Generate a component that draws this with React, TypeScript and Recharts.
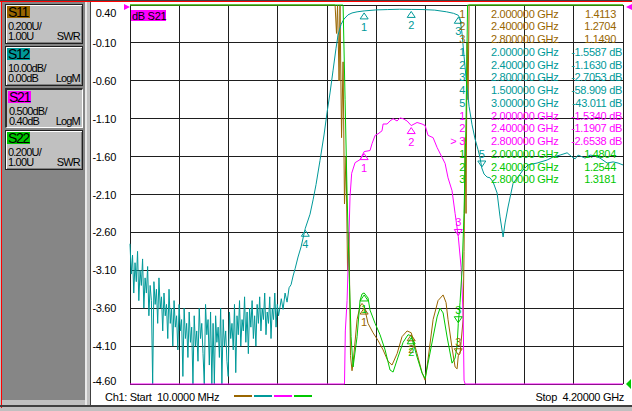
import React from "react";
import {
  ComposedChart,
  Line,
  XAxis,
  YAxis,
  CartesianGrid,
  ReferenceDot,
} from "recharts";

const FONT = "'Liberation Sans', Arial, sans-serif";

// sweep
const START_GHZ = 0.01;
const STOP_GHZ = 4.2;
const X_TICKS = [0, 1, 2, 3, 4, 5, 6, 7, 8, 9, 10].map(
  (k) => START_GHZ + (k * (STOP_GHZ - START_GHZ)) / 10
);
const S21_TICKS = [0.4, -0.1, -0.6, -1.1, -1.6, -2.1, -2.6, -3.1, -3.6, -4.1, -4.6];

// channel panel
const TRACE_NAMES = ["S11", "S12", "S21", "S22"];
const TRACE_COLORS = ["#996600", "#009999", "#ff00ff", "#00c800"];
const TRACE_SCALES = ["0.200U/", "10.00dB/", "0.500dB/", "0.200U/"];
const TRACE_REFS = ["1.00U", "0.00dB", "0.40dB", "1.00U"];
const TRACE_FORMATS = ["SWR", "LogM", "LogM", "SWR"];

// S12 noise floor, one value per sweep step from the start
const S12_NOISE_STEP = 0.0107;
const S12_NOISE_DB = [
  -63, -71, -66, -76, -68, -73, -65, -78, -70, -74,
  -67, -80, -72, -76, -69, -82, -74, -78, -100, -73,
  -79, -75, -84, -72, -80, -77, -86, -76, -82, -79,
  -88, -75, -84, -80, -90, -78, -85, -82, -91, -79,
  -86, -83, -98, -80, -88, -84, -93, -81, -89, -85,
  -100, -82, -90, -86, -94, -80, -88, -84, -92, -100,
  -79, -87, -83, -95, -81, -100, -84, -100, -82, -89,
  -85, -93, -80, -100, -83, -90, -86, -94, -98, -81,
  -88, -84, -91, -79, -97, -82, -87, -78, -90, -83,
  -86, -77, -89, -81, -92, -80, -85, -78, -88, -82,
  -90, -79, -84, -77, -86, -80, -83, -76, -87, -81,
  -84, -77, -88, -80, -83, -76, -85, -79, -82, -80,
];

// S12 skirt, passband and upper stopband [GHz, dB]
const S12_TRACE = [
  [1.296, -77.5], [1.311, -80.3], [1.328, -76.0], [1.345, -78.4], [1.362, -74.6],
  [1.379, -73.8], [1.396, -71.5], [1.413, -69.6], [1.438, -66.5], [1.464, -63.8],
  [1.5, -58.909], [1.54, -55.2], [1.566, -51.4], [1.591, -47.4], [1.625, -41.0],
  [1.659, -34.3], [1.685, -28.3], [1.71, -23.2], [1.736, -17.2], [1.761, -11.4],
  [1.778, -8.0], [1.804, -5.1], [1.829, -3.7], [1.863, -2.6], [1.897, -2.1],
  [1.94, -1.8], [2.0, -1.5587], [2.1, -1.3], [2.2, -1.2], [2.3, -1.12],
  [2.4, -1.163], [2.5, -1.2], [2.6, -1.35], [2.7, -1.8], [2.76, -2.2],
  [2.8, -2.7053], [2.815, -3.6], [2.832, -7.5], [2.849, -13.5], [2.87, -20.5],
  [2.892, -26.8], [2.917, -31.6], [2.943, -35.4], [2.968, -38.2], [2.985, -40.3], [3.0, -43.011],
  [3.019, -44.6], [3.045, -45.4], [3.07, -45.6], [3.096, -46.7], [3.13, -49.6],
  [3.155, -55.9], [3.181, -61.2], [3.198, -57.5], [3.223, -53.3], [3.266, -47.0],
  [3.308, -45.4], [3.351, -43.5], [3.393, -42.2], [3.47, -41.7], [3.555, -40.9],
  [3.606, -40.1], [3.665, -39.6], [3.725, -39.0], [3.767, -40.1], [3.793, -40.6],
  [3.818, -39.6], [3.878, -40.4], [3.92, -39.6], [3.963, -39.8], [4.005, -40.4],
  [4.065, -41.7], [4.116, -41.4], [4.158, -41.7], [4.2, -42.2],
];

// S21 [GHz, dB], clamped at the bottom of the screen
const S21_TRACE = [
  [0.01, -4.6], [1.833, -4.6], [1.84, -3.9], [1.855, -3.5], [1.867, -2.87],
  [1.88, -2.13], [1.894, -1.82], [1.923, -1.68], [1.965, -1.64], [2.0, -1.534],
  [2.05, -1.52], [2.067, -1.43], [2.093, -1.32], [2.118, -1.3], [2.152, -1.26],
  [2.161, -1.17], [2.195, -1.17], [2.22, -1.13], [2.246, -1.1], [2.28, -1.13],
  [2.305, -1.09], [2.331, -1.1], [2.365, -1.13], [2.4, -1.1907], [2.45, -1.15],
  [2.492, -1.17], [2.518, -1.19], [2.543, -1.32], [2.586, -1.35], [2.62, -1.48],
  [2.662, -1.61], [2.688, -1.69], [2.713, -1.88], [2.747, -2.05], [2.773, -2.35],
  [2.8, -2.6538], [2.824, -3.06], [2.841, -3.66], [2.849, -4.55], [2.858, -4.6],
  [4.2, -4.6],
];

// S11 SWR [GHz, U], clamped at the top of the screen
const S11_TRACE = [
  [0.01, 3.0], [1.753, 3.0], [1.765, 2.85], [1.774, 3.0], [1.787, 2.6],
  [1.795, 3.0], [1.808, 2.3], [1.821, 2.7], [1.833, 1.95], [1.846, 2.2],
  [1.859, 1.6], [1.871, 1.8], [1.884, 1.15], [1.897, 1.07], [1.906, 1.11],
  [1.94, 1.34], [1.965, 1.41], [1.982, 1.425], [2.0, 1.4113], [2.033, 1.32],
  [2.076, 1.27], [2.118, 1.23], [2.161, 1.18], [2.203, 1.12], [2.237, 1.1],
  [2.28, 1.16], [2.322, 1.25], [2.365, 1.28], [2.4, 1.2704], [2.45, 1.16],
  [2.492, 1.06], [2.518, 1.02], [2.543, 1.13], [2.586, 1.34], [2.628, 1.44],
  [2.671, 1.47], [2.696, 1.43], [2.713, 1.34], [2.747, 1.19], [2.773, 1.09],
  [2.79, 1.08], [2.8, 1.149], [2.815, 1.16], [2.841, 1.34], [2.849, 1.7],
  [2.858, 2.3], [2.866, 1.9], [2.875, 2.8], [2.883, 2.5], [2.892, 3.0],
  [4.2, 3.0],
];

// S22 SWR [GHz, U]
const S22_TRACE = [
  [0.01, 3.0], [1.821, 3.0], [1.838, 2.5], [1.855, 2.0], [1.872, 1.6],
  [1.889, 1.25], [1.906, 1.09], [1.94, 1.25], [1.965, 1.44], [1.982, 1.475],
  [2.0, 1.4804], [2.033, 1.454], [2.05, 1.39], [2.093, 1.32], [2.135, 1.26],
  [2.178, 1.18], [2.22, 1.074], [2.246, 1.063], [2.288, 1.142], [2.331, 1.22],
  [2.373, 1.26], [2.4, 1.2544], [2.45, 1.142], [2.492, 1.058], [2.518, 1.03],
  [2.543, 1.11], [2.586, 1.248], [2.62, 1.354], [2.645, 1.4], [2.671, 1.375],
  [2.705, 1.248], [2.747, 1.11], [2.773, 1.137], [2.79, 1.2], [2.8, 1.3181],
  [2.815, 1.43], [2.832, 1.6], [2.849, 1.9], [2.866, 2.4], [2.879, 3.0],
  [4.2, 3.0],
];

// markers [GHz, value]
const S11_MARKERS = [[2.0, 1.4113], [2.4, 1.2704], [2.8, 1.149]];
const S12_MARKERS = [[2.0, -1.5587], [2.4, -1.163], [2.8, -2.7053], [1.5, -58.909], [3.0, -43.011]];
const S21_MARKERS = [[2.0, -1.534], [2.4, -1.1907], [2.8, -2.6538]];
const S22_MARKERS = [[2.0, 1.4804], [2.4, 1.2544], [2.8, 1.3181]];

const toPoints = (pairs: number[][]) => pairs.map(([f, v]) => ({ f, v }));

const s12Points = [
  ...S12_NOISE_DB.map((v, i) => ({ f: START_GHZ + i * S12_NOISE_STEP, v })),
  ...toPoints(S12_TRACE),
];

const markerSets = [
  { axis: "swr", color: TRACE_COLORS[0], markers: S11_MARKERS, down: [false, false, true], unit: "" },
  { axis: "s12", color: TRACE_COLORS[1], markers: S12_MARKERS, down: [false, false, false, false, true], unit: " dB" },
  { axis: "s21", color: TRACE_COLORS[2], markers: S21_MARKERS, down: [false, false, true], unit: " dB" },
  { axis: "swr", color: TRACE_COLORS[3], markers: S22_MARKERS, down: [false, false, true], unit: "" },
];

function markerShape(color: string, label: string, down: boolean) {
  return (p: any) => {
    const cx = p.cx;
    const cy = p.cy;
    if (down) {
      return (
        <g>
          <polygon points={`${cx - 4},${cy - 7} ${cx + 4},${cy - 7} ${cx},${cy - 1}`} fill="none" stroke={color} />
          <text x={cx} y={cy - 10} textAnchor="middle" fontSize={11} fontFamily={FONT} fill={color}>{label}</text>
        </g>
      );
    }
    return (
      <g>
        <polygon points={`${cx},${cy + 2} ${cx - 4},${cy + 8} ${cx + 4},${cy + 8}`} fill="none" stroke={color} />
        <text x={cx} y={cy + 20} textAnchor="middle" fontSize={11} fontFamily={FONT} fill={color}>{label}</text>
      </g>
    );
  };
}

const renderS21Tick = (p: any) => {
  const v = Number(p.payload.value);
  const dy = v === S21_TICKS[0] ? 12 : v === S21_TICKS[S21_TICKS.length - 1] ? 1 : 4;
  return (
    <text x={116} y={p.y + dy} textAnchor="end" fontSize={11} fontFamily={FONT} fill="#000" letterSpacing={-0.3}>
      {v.toFixed(2)}
    </text>
  );
};

// frequency ticks only feed the grid, no labels are drawn
const renderNoTick = () => <g />;

function ChannelBox({ i }: { i: number }) {
  const active = i === 2;
  const text: React.CSSProperties = { position: "absolute", fontSize: 11, lineHeight: "11px", letterSpacing: -0.8, color: "#000" };
  return (
    <div
      style={{
        position: "absolute",
        left: 5,
        top: 4 + 42 * i,
        width: 78,
        height: 40,
        boxSizing: "border-box",
        background: "#c0c0c0",
        borderStyle: "solid",
        borderWidth: active ? "2px 1px 1px 2px" : 1,
        borderColor: active ? "#303030 #ffffff #ffffff #303030" : "#202020",
        boxShadow: active ? "none" : "inset 1px 1px 0 #ffffff, inset -1px -1px 0 #808080",
      }}
    >
      <div
        style={{
          position: "absolute",
          left: 1,
          top: 1,
          width: 23,
          height: 12,
          background: TRACE_COLORS[i],
          fontSize: 14,
          lineHeight: "12px",
          letterSpacing: -1.3,
          paddingLeft: 1,
          boxSizing: "border-box",
        }}
      >
        {TRACE_NAMES[i]}
      </div>
      <div style={{ ...text, left: 2, top: 16 }}>{TRACE_SCALES[i]}</div>
      <div style={{ ...text, left: 2, top: 26 }}>{TRACE_REFS[i]}</div>
      <div style={{ ...text, right: 2, top: 26 }}>{TRACE_FORMATS[i]}</div>
    </div>
  );
}

export default function App() {
  const rows = markerSets.flatMap((set, si) =>
    set.markers.map((m, mi) => ({
      color: set.color,
      num: si === 2 && mi === 2 ? "> 3" : `${mi + 1}`,
      freq: `${m[0].toFixed(6)} GHz`,
      value: `${m[1].toPrecision(5)}${set.unit}`,
      dB: set.unit !== "",
    }))
  );

  return (
    <div
      style={{
        position: "fixed",
        left: 0,
        top: 0,
        width: 632,
        height: 411,
        overflow: "hidden",
        background: "#c0c0c0",
        fontFamily: FONT,
      }}
    >
      {/* window frame */}
      <div style={{ position: "absolute", left: 0, top: 0, width: 632, height: 1, background: "#404040" }} />
      <div style={{ position: "absolute", left: 0, top: 1, width: 632, height: 1, background: "#ff0000" }} />
      <div style={{ position: "absolute", left: 1, top: 1, width: 1, height: 407, background: "#ff0000" }} />
      <div style={{ position: "absolute", left: 2, top: 2, width: 83, height: 398, background: "#868686" }} />
      <div style={{ position: "absolute", left: 85, top: 2, width: 2, height: 403, background: "#e8e8e8" }} />
      <div style={{ position: "absolute", left: 90, top: 2, width: 1, height: 403, background: "#404040" }} />
      <div style={{ position: "absolute", left: 91, top: 2, width: 541, height: 403, background: "#ffffff" }} />
      <div style={{ position: "absolute", left: 0, top: 405, width: 632, height: 2, background: "#404040" }} />

      {TRACE_NAMES.map((_, i) => (
        <ChannelBox key={i} i={i} />
      ))}

      <div style={{ position: "absolute", left: 0, top: 0 }}>
        <ComposedChart width={632} height={411} margin={{ top: 5, right: 9, bottom: 27, left: 92 }}>
          <CartesianGrid
            xAxisId="f"
            yAxisId="s21"
            stroke="#1e1e1e"
            strokeWidth={1}
            vertical
            horizontal
            shapeRendering="crispEdges"
          />
          <XAxis
            xAxisId="f"
            dataKey="f"
            type="number"
            domain={[START_GHZ, STOP_GHZ]}
            ticks={X_TICKS}
            interval={0}
            tick={renderNoTick}
            axisLine={false}
            tickLine={false}
            height={0}
          />
          <YAxis
            yAxisId="s21"
            type="number"
            domain={[-4.6, 0.4]}
            ticks={S21_TICKS}
            interval={0}
            width={38}
            axisLine={false}
            tickLine={false}
            tick={renderS21Tick}
          />
          <YAxis yAxisId="s12" hide type="number" domain={[-100, 0]} />
          <YAxis yAxisId="swr" hide type="number" domain={[1, 3]} />

          <Line xAxisId="f" yAxisId="swr" data={toPoints(S11_TRACE)} dataKey="v" type="linear" stroke={TRACE_COLORS[0]} strokeWidth={1} dot={false} isAnimationActive={false} />
          <Line xAxisId="f" yAxisId="s12" data={s12Points} dataKey="v" type="linear" stroke={TRACE_COLORS[1]} strokeWidth={1} dot={false} isAnimationActive={false} />
          <Line xAxisId="f" yAxisId="s21" data={toPoints(S21_TRACE)} dataKey="v" type="linear" stroke={TRACE_COLORS[2]} strokeWidth={1} dot={false} isAnimationActive={false} />
          <Line xAxisId="f" yAxisId="swr" data={toPoints(S22_TRACE)} dataKey="v" type="linear" stroke={TRACE_COLORS[3]} strokeWidth={1} dot={false} isAnimationActive={false} />

          {markerSets.flatMap((set, si) =>
            set.markers.map((m, mi) => (
              <ReferenceDot
                key={`${si}-${mi}`}
                xAxisId="f"
                yAxisId={set.axis}
                x={m[0]}
                y={m[1]}
                r={4}
                shape={markerShape(set.color, `${mi + 1}`, set.down[mi])}
              />
            ))
          )}
        </ComposedChart>
      </div>

      {/* annotations */}
      <svg width={632} height={411} style={{ position: "absolute", left: 0, top: 0, pointerEvents: "none" }}>
        <polygon points="124,4 130,7 124,10" fill={TRACE_COLORS[2]} />
        <polygon points="632,4 626,7 632,10" fill={TRACE_COLORS[2]} />
        <polygon points="631,379 626,384 631,389" fill={TRACE_COLORS[3]} />
        <rect x={131} y={10} width={35} height={11} fill={TRACE_COLORS[2]} />
        <text x={132} y={19.5} fontSize={11} fontFamily={FONT} fill="#000" letterSpacing={-0.3}>dB S21</text>

        {rows.map((r, i) => {
          const y = 17.5 + 12.75 * i;
          return (
            <g key={i} fill={r.color} fontSize={11} fontFamily={FONT} letterSpacing={-0.3} style={{ whiteSpace: "pre" }}>
              <text x={465} y={y} textAnchor="end">{r.num}</text>
              <text x={491} y={y}>{r.freq}</text>
              <text x={r.dB ? 622 : 616} y={y} textAnchor="end">{r.value}</text>
            </g>
          );
        })}

        <text x={105} y={401} fontSize={11} fontFamily={FONT} fill="#000" letterSpacing={-0.3} style={{ whiteSpace: "pre" }}>
          {"Ch1: Start  10.0000 MHz"}
        </text>
        <text x={624} y={401} textAnchor="end" fontSize={11} fontFamily={FONT} fill="#000" letterSpacing={-0.3} style={{ whiteSpace: "pre" }}>
          {"Stop  4.20000 GHz"}
        </text>
        {TRACE_COLORS.map((c, i) => (
          <line key={i} x1={234 + 20 * i} x2={252 + 20 * i} y1={396} y2={396} stroke={c} strokeWidth={2} />
        ))}
      </svg>
    </div>
  );
}
